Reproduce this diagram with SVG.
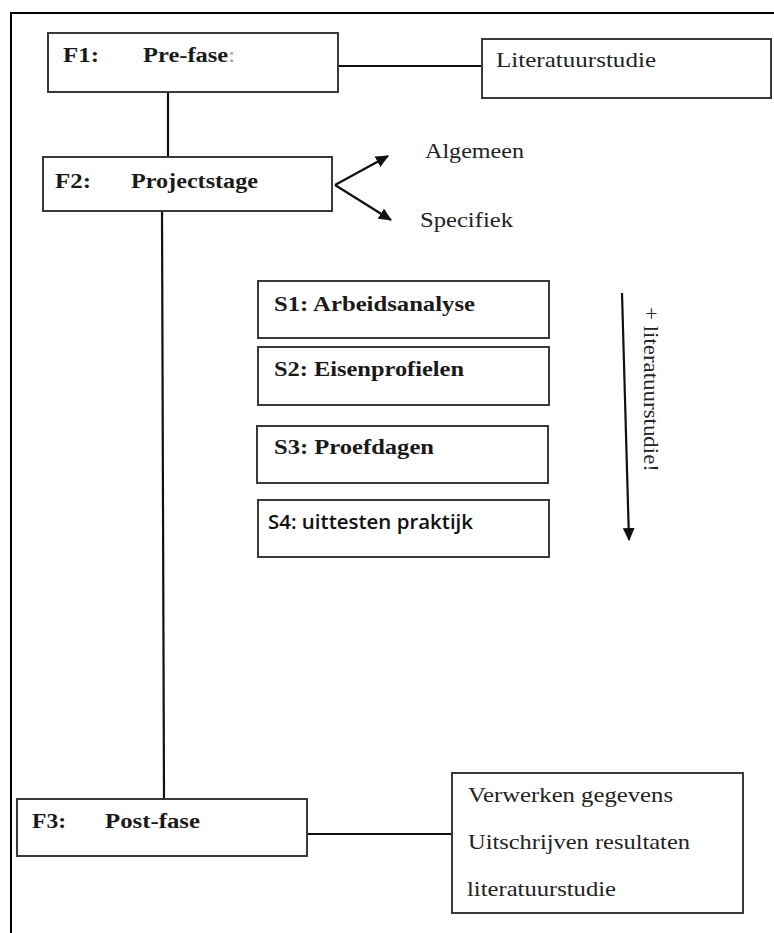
<svg xmlns="http://www.w3.org/2000/svg" width="774" height="933" viewBox="0 0 774 933">
<defs>
<marker id="ah" markerWidth="14" markerHeight="12" refX="12" refY="6" orient="auto" markerUnits="userSpaceOnUse">
<path d="M0,0 L13,6 L0,12 Z" fill="#111"/>
</marker>
<style>
.box{fill:#fff;stroke:#3a3a3a;stroke-width:2}
.ln{stroke:#111;stroke-width:2.2;fill:none}
.frame{stroke:#000;stroke-width:2;fill:none}
.fb{font-family:"Liberation Serif","Times New Roman",serif;font-weight:bold;font-size:20px;fill:#1a1a1a}
.sb{font-family:"Liberation Serif","Times New Roman",serif;font-weight:bold;font-size:22px;fill:#1a1a1a}
.rg{font-family:"Liberation Serif","Times New Roman",serif;font-size:21px;fill:#222}
.cal{font-family:"Open Sans","Liberation Sans",sans-serif;font-weight:600;font-size:19px;fill:#111}
</style>
</defs>
<rect width="774" height="933" fill="#fff"/>
<path class="frame" d="M11,933 L11,13 L774,13"/>
<g id="connectors">
<line class="ln" x1="338" y1="66" x2="482" y2="66"/>
<line class="ln" x1="168" y1="92" x2="168" y2="157"/>
<line class="ln" x1="162" y1="211" x2="164" y2="799"/>
<line class="ln" x1="307" y1="834" x2="452" y2="834"/>
<line class="ln" x1="335" y1="185" x2="388" y2="156" marker-end="url(#ah)"/>
<line class="ln" x1="335" y1="185" x2="391" y2="220" marker-end="url(#ah)"/>
<line class="ln" x1="622" y1="293" x2="629" y2="540" marker-end="url(#ah)"/>
</g>
<g id="F1">
<rect class="box" x="48" y="33" width="290" height="59"/>
<text class="fb" x="63" y="62" textLength="36" lengthAdjust="spacingAndGlyphs">F1:</text>
<text class="fb" x="143" y="62" textLength="92" lengthAdjust="spacingAndGlyphs">Pre-fase<tspan fill="#999" font-weight="normal">:</tspan></text>
</g>
<g id="Lit">
<rect class="box" x="482" y="39" width="289" height="59"/>
<text class="rg" x="496" y="67" textLength="160" lengthAdjust="spacingAndGlyphs">Literatuurstudie</text>
</g>
<g id="F2">
<rect class="box" x="43" y="157" width="289" height="54"/>
<text class="fb" x="55" y="188" textLength="36" lengthAdjust="spacingAndGlyphs">F2:</text>
<text class="fb" x="131" y="188" textLength="127" lengthAdjust="spacingAndGlyphs">Projectstage</text>
</g>
<g id="Algemeen">
<text class="rg" x="425" y="158" textLength="99" lengthAdjust="spacingAndGlyphs">Algemeen</text>
</g>
<g id="Specifiek">
<text class="rg" x="420" y="227" textLength="93" lengthAdjust="spacingAndGlyphs">Specifiek</text>
</g>
<g id="S1">
<rect class="box" x="258" y="281" width="291" height="57"/>
<text class="sb" x="274" y="311" textLength="201" lengthAdjust="spacingAndGlyphs">S1: Arbeidsanalyse</text>
</g>
<g id="S2">
<rect class="box" x="258" y="347" width="291" height="58"/>
<text class="sb" x="274" y="376" textLength="190" lengthAdjust="spacingAndGlyphs">S2: Eisenprofielen</text>
</g>
<g id="S3">
<rect class="box" x="257" y="426" width="291" height="57"/>
<text class="sb" x="274" y="454" textLength="160" lengthAdjust="spacingAndGlyphs">S3: Proefdagen</text>
</g>
<g id="S4">
<rect class="box" x="258" y="500" width="291" height="57"/>
<text class="cal" x="268" y="529" textLength="205" lengthAdjust="spacingAndGlyphs">S4: uittesten praktijk</text>
</g>
<g id="vlabel">
<text class="rg" transform="translate(644,307) rotate(90)" x="0" y="0" font-size="21" textLength="165" lengthAdjust="spacingAndGlyphs">+ literatuurstudie!</text>
</g>
<g id="F3">
<rect class="box" x="17" y="799" width="290" height="57"/>
<text class="fb" x="32" y="828" font-size="21" textLength="34" lengthAdjust="spacingAndGlyphs">F3:</text>
<text class="fb" x="105" y="828" font-size="21" textLength="95" lengthAdjust="spacingAndGlyphs">Post-fase</text>
</g>
<g id="Post">
<rect class="box" x="452" y="773" width="291" height="140"/>
<text class="rg" x="468" y="802" textLength="205" lengthAdjust="spacingAndGlyphs">Verwerken gegevens</text>
<text class="rg" x="468" y="849" textLength="222" lengthAdjust="spacingAndGlyphs">Uitschrijven resultaten</text>
<text class="rg" x="467" y="896" textLength="149" lengthAdjust="spacingAndGlyphs">literatuurstudie</text>
</g>
</svg>
